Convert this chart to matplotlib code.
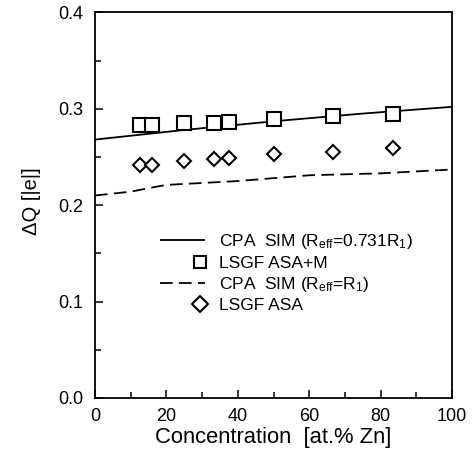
import matplotlib
matplotlib.use("Agg")
import matplotlib.pyplot as plt
from matplotlib.legend_handler import HandlerLine2D
from matplotlib.lines import Line2D
from matplotlib.ticker import MultipleLocator

plt.rcParams["font.family"] = ["Liberation Sans", "DejaVu Sans"]
plt.rcParams["mathtext.fontset"] = "custom"
plt.rcParams["mathtext.rm"] = "Liberation Sans"
plt.rcParams["mathtext.it"] = "Liberation Sans"

# CPA SIM curve, R_eff = 0.731 R1
cpa_fit_x = [0, 25, 50, 75, 100]
cpa_fit_y = [0.268, 0.278, 0.287, 0.295, 0.302]

# CPA SIM curve, R_eff = R1
cpa_r1_x = [0, 10, 17, 20, 30, 40, 50, 60, 70, 80, 85, 100]
cpa_r1_y = [0.210, 0.214, 0.219, 0.221, 0.223, 0.225, 0.228, 0.231, 0.232, 0.233, 0.234, 0.237]

# LSGF calculations
lsgf_x = [12.5, 16, 25, 33.3, 37.5, 50, 66.7, 83.3]
lsgf_asam_y = [0.283, 0.283, 0.285, 0.285, 0.286, 0.289, 0.292, 0.295]
lsgf_asa_y = [0.242, 0.242, 0.246, 0.248, 0.249, 0.253, 0.255, 0.259]

x_ticks = [0, 20, 40, 60, 80, 100]
y_ticks = [0.0, 0.1, 0.2, 0.3, 0.4]


class MarkerRightHandler(HandlerLine2D):
    """Place a lone legend marker near the right end of the handle box."""

    def get_xdata(self, legend, xdescent, ydescent, width, height, fontsize):
        m = -xdescent + 0.89 * width
        return [m - 1.0, m + 1.0], [m]


fig = plt.figure(figsize=(4.75, 4.5), dpi=100)
ax = fig.add_axes([0.2, 0.1156, 0.752, 0.857])

ln1, = ax.plot(cpa_fit_x, cpa_fit_y, color="black", lw=1.3, solid_capstyle="butt")
ax.plot(lsgf_x, lsgf_asam_y, ls="none", marker="s", ms=9.5, mfc="white",
        mec="black", mew=1.5)
ln2, = ax.plot(cpa_r1_x, cpa_r1_y, color="black", lw=1.3, dashes=(7, 3.5))
ax.plot(lsgf_x, lsgf_asa_y, ls="none", marker="D", ms=7.5, mfc="white",
        mec="black", mew=1.5)

# legend keys for the marker series
sq_key = Line2D([], [], ls="none", marker="s", ms=8, mfc="white", mec="black", mew=1.5)
dm_key = Line2D([], [], ls="none", marker="D", ms=8, mfc="white", mec="black", mew=1.5)

ax.set_xlim(0, 100)
ax.set_ylim(0.0, 0.4)
ax.set_xticks(x_ticks)
ax.set_yticks(y_ticks)
ax.set_xticklabels([str(v) for v in x_ticks])
ax.set_yticklabels([f"{v:.1f}" for v in y_ticks])
ax.xaxis.set_minor_locator(MultipleLocator(10))
ax.yaxis.set_minor_locator(MultipleLocator(0.05))
ax.tick_params(which="both", direction="in", top=False, right=False,
               labelsize=13, width=1.1)
ax.tick_params(which="major", length=6)
ax.tick_params(which="minor", length=4)
ax.tick_params(axis="x", pad=7)
ax.tick_params(axis="y", pad=8.5)
for s in ax.spines.values():
    s.set_linewidth(1.3)

ax.set_xlabel("Concentration  [at.% Zn]", fontsize=15.8, labelpad=2)
ax.set_ylabel("ΔQ [|e|]", fontsize=14.5)
ax.yaxis.set_label_coords(-0.151, 0.51)

labels = [
    r"CPA  SIM (R$_{\rm eff}$=0.731R$_{\rm 1}$)",
    "LSGF ASA+M",
    r"CPA  SIM (R$_{\rm eff}$=R$_{\rm 1}$)",
    "LSGF ASA",
]
ax.legend([ln1, sq_key, ln2, dm_key], labels, loc="upper left",
          bbox_to_anchor=(0.182, 0.43), frameon=False, fontsize=12.5,
          handlelength=2.6, handletextpad=0.8, labelspacing=0.25,
          numpoints=1, borderpad=0.0, borderaxespad=0.0,
          handler_map={sq_key: MarkerRightHandler(), dm_key: MarkerRightHandler()})

fig.savefig("out.png", dpi=100)
